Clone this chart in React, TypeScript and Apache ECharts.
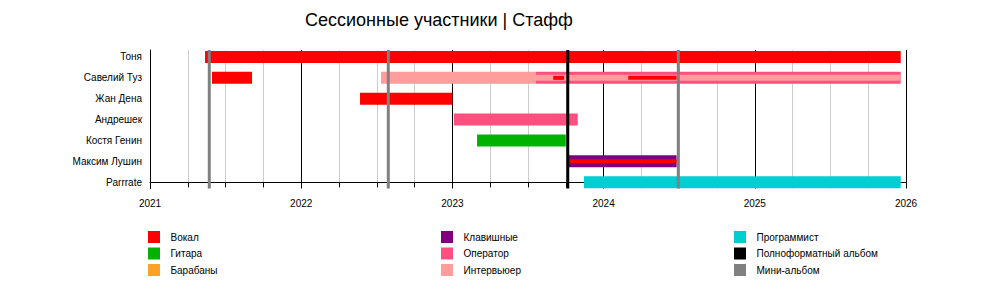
import React, { useEffect, useRef } from "react";
import * as echarts from "echarts";

// ---- Data ----
const TITLE = "Сессионные участники | Стафф";
const MEMBERS = ["Тоня", "Савелий Туз", "Жан Дена", "Андрешек", "Костя Генин", "Максим Лушин", "Parrrate"];
const X_MIN = 2021;
const X_MAX = 2026;

// [member, start (decimal year), end (decimal year), layer: 0 primary / 1 secondary / 2 tertiary]
const vocal: [string, number, number, number][] = [
  ["Тоня", 2021.364, 2025.965, 0],
  ["Савелий Туз", 2021.41, 2021.675, 0],
  ["Жан Дена", 2022.389, 2023.0, 0],
  ["Савелий Туз", 2023.667, 2023.738, 2],
  ["Савелий Туз", 2024.163, 2024.483, 2],
  ["Максим Лушин", 2023.767, 2024.483, 2],
];
const guitar: [string, number, number, number][] = [["Костя Генин", 2023.163, 2023.75, 0]];
const drums: [string, number, number, number][] = [];
const keys: [string, number, number, number][] = [["Максим Лушин", 2023.767, 2024.483, 0]];
const operator: [string, number, number, number][] = [
  ["Андрешек", 2023.01, 2023.829, 0],
  ["Савелий Туз", 2023.553, 2025.965, 0],
];
const interviewer: [string, number, number, number][] = [
  ["Савелий Туз", 2022.528, 2023.553, 0],
  ["Савелий Туз", 2023.553, 2025.965, 1],
];
const programmer: [string, number, number, number][] = [["Parrrate", 2023.87, 2025.965, 0]];
const fullAlbums: number[] = [2023.763];
const miniAlbums: number[] = [2021.392, 2022.576, 2024.494];

// ---- Styles ----
const FONT = "Liberation Sans";
const THICK = [12, 6, 4];
const Y_MIN = -0.3;
const Y_MAX = 6.335;

const roleSeries = [
  { name: "Вокал", data: vocal, color: "#ff0000" },
  { name: "Гитара", data: guitar, color: "#00b300" },
  { name: "Барабаны", data: drums, color: "#ffa027" },
  { name: "Клавишные", data: keys, color: "#7f007f" },
  { name: "Оператор", data: operator, color: "#ff4f7f" },
  { name: "Интервьюер", data: interviewer, color: "#ff9c9c" },
  { name: "Программист", data: programmer, color: "#00ced1" },
];
const albumSeries = [
  { name: "Полноформатный альбом", data: fullAlbums, color: "#000000" },
  { name: "Мини-альбом", data: miniAlbums, color: "#808080" },
];

const legendCols = [
  { left: 148, names: ["Вокал", "Гитара", "Барабаны"] },
  { left: 441, names: ["Клавишные", "Оператор", "Интервьюер"] },
  { left: 734, names: ["Программист", "Полноформатный альбом", "Мини-альбом"] },
];

export default function App() {
  const ref = useRef<HTMLDivElement>(null);
  useEffect(() => {
    if (!ref.current) return;
    const chart = echarts.init(ref.current, null, { renderer: "svg" });
    const rowOf = (m: string) => MEMBERS.length - 1 - MEMBERS.indexOf(m);

    const series: any[] = [];
    roleSeries.forEach((r) => {
      series.push({
        type: "custom",
        name: r.name,
        xAxisIndex: 0,
        yAxisIndex: 0,
        itemStyle: { color: r.color },
        encode: { x: [1, 2], y: 0 },
        data: r.data.map((d) => [rowOf(d[0]), d[1], d[2], d[3]]),
        renderItem: (params: any, api: any) => {
          const row = api.value(0);
          const p0 = api.coord([api.value(1), row]);
          const p1 = api.coord([api.value(2), row]);
          const layer = api.value(3);
          const h = THICK[layer];
          return {
            type: "rect",
            z2: 10 + layer * 10,
            shape: { x: p0[0], y: p0[1] - h / 2, width: p1[0] - p0[0], height: h },
            style: { fill: r.color },
          };
        },
      });
    });
    albumSeries.forEach((a) => {
      series.push({
        type: "custom",
        name: a.name,
        xAxisIndex: 0,
        yAxisIndex: 0,
        itemStyle: { color: a.color },
        encode: { x: 0 },
        data: a.data.map((v) => [v]),
        renderItem: (params: any, api: any) => {
          const top = api.coord([api.value(0), Y_MAX]);
          const bot = api.coord([api.value(0), Y_MIN]);
          return {
            type: "line",
            z2: 100,
            shape: { x1: top[0], y1: top[1], x2: bot[0], y2: bot[1] },
            style: { stroke: a.color, lineWidth: 3 },
          };
        },
      });
    });

    const rowPitch = 138.5 / (Y_MAX - Y_MIN);
    const labelTop = 50 + (Y_MAX - 6) * rowPitch - rowPitch / 2;
    const labelHeight = rowPitch * MEMBERS.length;

    chart.setOption({
      animation: false,
      title: {
        text: TITLE,
        left: 305,
        top: 11,
        padding: 0,
        textStyle: { fontFamily: FONT, fontSize: 18, fontWeight: "normal", color: "#000" },
      },
      legend: legendCols.map((c) => ({
        data: c.names,
        left: c.left,
        top: 231,
        orient: "vertical",
        padding: 0,
        itemWidth: 12,
        itemHeight: 12,
        itemGap: 4.5,
        icon: "rect",
        selectedMode: false,
        textStyle: { fontFamily: FONT, fontSize: 10, color: "#000", padding: [0, 0, 0, 5.5] },
      })),
      grid: [
        { left: 150, right: 94, top: 50, bottom: 109.5 },
        { left: 150, right: 94, top: labelTop, height: labelHeight },
      ],
      xAxis: [
        {
          type: "value",
          gridIndex: 0,
          min: X_MIN,
          max: X_MAX,
          interval: 1,
          axisLine: { show: true, lineStyle: { color: "#000", width: 1 } },
          axisTick: { show: true, length: 5, lineStyle: { color: "#000" } },
          minorTick: { show: true, splitNumber: 4, length: 5, lineStyle: { color: "#000" } },
          splitLine: { show: true, lineStyle: { color: "#000", width: 1 } },
          minorSplitLine: { show: true, lineStyle: { color: "#cccccc", width: 1 } },
          axisLabel: {
            fontFamily: FONT,
            fontSize: 10,
            color: "#000",
            margin: 10,
            formatter: (v: number) => String(Math.round(v)),
          },
        },
        { type: "value", gridIndex: 1, show: false, min: 0, max: 1 },
      ],
      yAxis: [
        {
          type: "value",
          gridIndex: 0,
          min: Y_MIN,
          max: Y_MAX,
          axisLine: { show: true, lineStyle: { color: "#000", width: 1 } },
          axisTick: { show: false },
          axisLabel: { show: false },
          splitLine: { show: false },
        },
        {
          type: "category",
          gridIndex: 1,
          inverse: true,
          data: MEMBERS,
          axisLine: { show: false },
          axisTick: { show: false },
          splitLine: { show: false },
          axisLabel: { fontFamily: FONT, fontSize: 10, color: "#000", margin: 8 },
        },
      ],
      series,
    });
    return () => chart.dispose();
  }, []);
  return (
    <div
      ref={ref}
      style={{ position: "fixed", left: 0, top: 0, width: 1000, height: 298, background: "#fff" }}
    />
  );
}
